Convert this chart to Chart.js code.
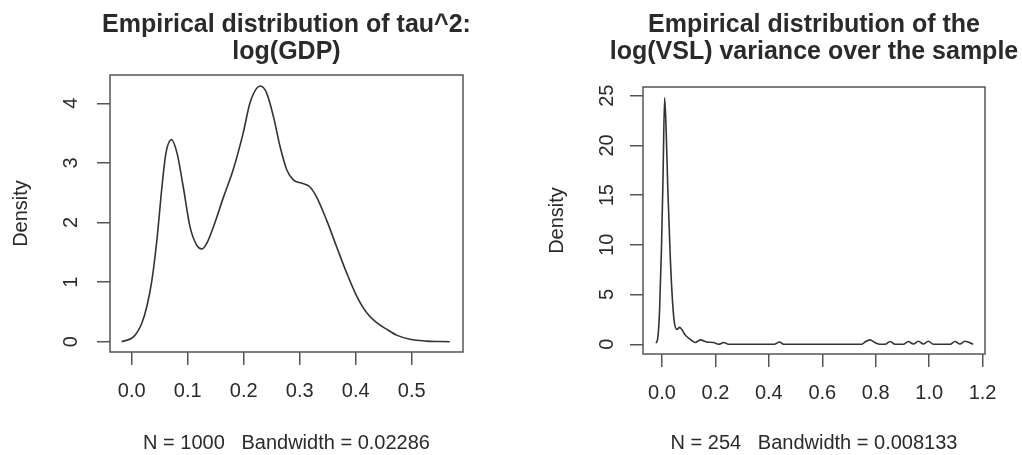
<!DOCTYPE html>
<html>
<head>
<meta charset="utf-8">
<script src="https://cdn.jsdelivr.net/npm/chart.js@4/dist/chart.umd.min.js"></script>
<style>
  html, body { margin: 0; padding: 0; background: #fff; }
  .panel { position: absolute; top: 0; width: 511px; height: 455px; }
</style>
</head>
<body>
<div class="panel" style="left:0"><canvas id="left" width="511" height="455"></canvas></div>
<div class="panel" style="left:511px"><canvas id="right" width="511" height="455"></canvas></div>
<script>
// left panel: tau^2 density, log(GDP)
const gdpX = [-0.018, 0.003, 0.018, 0.027, 0.036, 0.045, 0.054, 0.061, 0.071, 0.081, 0.092, 0.104, 0.116, 0.125, 0.134, 0.146, 0.164, 0.181, 0.199, 0.211, 0.223, 0.230, 0.241, 0.253, 0.265, 0.277, 0.289, 0.304, 0.318, 0.330, 0.348, 0.366, 0.384, 0.402, 0.420, 0.4375, 0.455, 0.473, 0.497, 0.527, 0.568];
const gdpY = [0.0, 0.08, 0.31, 0.59, 1.03, 1.71, 2.60, 3.16, 3.39, 3.16, 2.60, 1.93, 1.62, 1.555, 1.65, 1.93, 2.43, 2.88, 3.50, 4.0, 4.25, 4.29, 4.17, 3.78, 3.27, 2.88, 2.71, 2.66, 2.60, 2.43, 2.04, 1.59, 1.15, 0.76, 0.48, 0.32, 0.21, 0.11, 0.04, 0.01, 0.0];
const gdpXTicks = [0.0, 0.1, 0.2, 0.3, 0.4, 0.5];
const gdpYTicks = [0, 1, 2, 3, 4];

// right panel: log(VSL) variance density
const vslX = [-0.022, -0.015, -0.009, -0.002, 0.004, 0.010, 0.016, 0.022, 0.031, 0.040, 0.047, 0.056, 0.066, 0.075, 0.087, 0.106, 0.125, 0.143, 0.168, 0.193, 0.212, 0.231, 0.249, 0.28, 0.42, 0.44, 0.455, 0.748, 0.76, 0.779, 0.797, 0.816, 0.835, 0.854, 0.872, 0.903, 0.922, 0.941, 0.96, 0.978, 0.997, 1.016, 1.078, 1.097, 1.115, 1.134, 1.165];
const vslY = [0.1, 0.77, 3.4, 9.5, 16.9, 24.8, 21.2, 15.5, 8.8, 4.1, 2.1, 1.5, 1.7, 1.45, 0.94, 0.5, 0.17, 0.44, 0.23, 0.17, 0.0, 0.17, 0.0, 0.0, 0.0, 0.23, 0.0, 0.0, 0.23, 0.44, 0.17, 0.0, 0.0, 0.27, 0.0, 0.0, 0.27, 0.03, 0.3, 0.03, 0.3, 0.0, 0.0, 0.27, 0.03, 0.3, 0.0];
const vslXTicks = [0.0, 0.2, 0.4, 0.6, 0.8, 1.0, 1.2];
const vslYTicks = [0, 5, 10, 15, 20, 25];

const FONT = "'Liberation Sans', Arial, sans-serif";
const TEXT = "#2a2a2a";

// R style: box round the plot region + two-line bold title
const rPlot = {
  id: "rPlot",
  afterDraw(chart, args, opts) {
    const ctx = chart.ctx;
    const a = chart.chartArea;
    ctx.save();
    ctx.strokeStyle = "#555";
    ctx.lineWidth = 1.5;
    ctx.strokeRect(a.left, a.top, a.right - a.left, a.bottom - a.top);
    ctx.fillStyle = TEXT;
    ctx.font = "bold 25px " + FONT;
    ctx.textAlign = "center";
    ctx.textBaseline = "alphabetic";
    const cx = (a.left + a.right) / 2 + (opts.shift || 0);
    opts.lines.forEach(function (t, i) {
      ctx.fillText(t, cx, 32 + i * 27);
    });
    ctx.restore();
  }
};

function makeChart(id, xs, ys, xTicks, yTicks, cfg) {
  const ctx = document.getElementById(id).getContext("2d");
  return new Chart(ctx, {
    type: "line",
    data: {
      datasets: [{
        data: xs.map(function (x, i) { return { x: x, y: ys[i] }; }),
        borderColor: "#333",
        borderWidth: 1.6,
        pointRadius: 0,
        fill: false,
        cubicInterpolationMode: "monotone"
      }]
    },
    plugins: [rPlot],
    options: {
      responsive: false,
      animation: false,
      layout: { padding: cfg.padding },
      plugins: {
        legend: { display: false },
        tooltip: { enabled: false },
        rPlot: { lines: cfg.title }
      },
      scales: {
        x: {
          type: "linear",
          min: cfg.xMin,
          max: cfg.xMax,
          afterBuildTicks: function (s) { s.ticks = xTicks.map(function (v) { return { value: v }; }); },
          afterFit: function (s) { s.height = cfg.xHeight; },
          grid: { display: true, drawOnChartArea: false, tickLength: 13, color: "#555", lineWidth: 1.5 },
          border: { display: false },
          ticks: {
            autoSkip: false, maxRotation: 0, padding: 14, color: TEXT,
            font: { family: FONT, size: 20 },
            callback: function (v) { return v.toFixed(1); }
          },
          title: {
            display: true, text: cfg.xTitle, color: TEXT,
            font: { family: FONT, size: 20 }, padding: { top: 0, bottom: 0 }
          }
        },
        y: {
          type: "linear",
          min: cfg.yMin,
          max: cfg.yMax,
          afterBuildTicks: function (s) { s.ticks = yTicks.map(function (v) { return { value: v }; }); },
          afterFit: function (s) { s.width = cfg.yWidth; },
          grid: { display: true, drawOnChartArea: false, tickLength: 13, color: "#555", lineWidth: 1.5 },
          border: { display: false },
          ticks: {
            minRotation: 90, maxRotation: 90, crossAlign: "center", padding: cfg.yPad,
            color: TEXT, font: { family: FONT, size: 20 },
            callback: function (v) { return String(v); }
          },
          title: {
            display: true, text: "Density", color: TEXT,
            font: { family: FONT, size: 20 }, padding: { top: cfg.yTitlePad, bottom: 0 }
          }
        }
      }
    }
  });
}

makeChart("left", gdpX, gdpY, gdpXTicks, gdpYTicks, {
  title: ["Empirical distribution of tau^2:", "log(GDP)"],
  xTitle: "N = 1000   Bandwidth = 0.02286",
  xMin: -0.0388, xMax: 0.5916, yMin: -0.173, yMax: 4.475,
  padding: { top: 75, right: 48, left: 0, bottom: 0 },
  xHeight: 103, yWidth: 110, yPad: 20, yTitlePad: 9
});

makeChart("right", vslX, vslY, vslXTicks, vslYTicks, {
  title: ["Empirical distribution of the", "log(VSL) variance over the sample"],
  xTitle: "N = 254   Bandwidth = 0.008133",
  xMin: -0.071, xMax: 1.209, yMin: -0.98, yMax: 25.88,
  padding: { top: 87, right: 37, left: 0, bottom: 0 },
  xHeight: 101, yWidth: 132, yPad: 11, yTitlePad: 34
});
</script>
</body>
</html>
